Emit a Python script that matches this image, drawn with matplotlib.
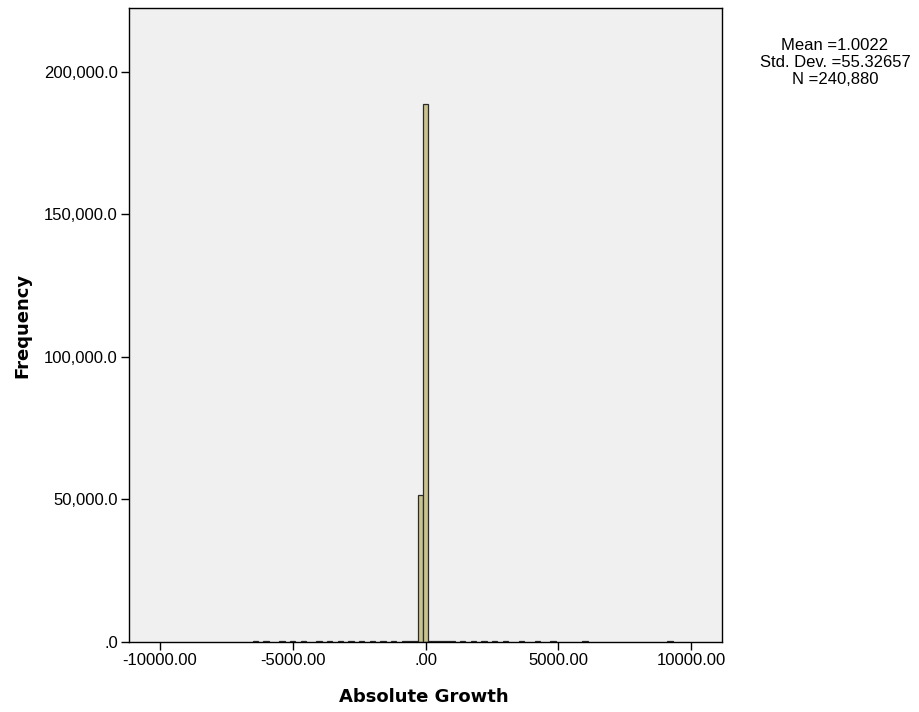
import matplotlib
matplotlib.use("Agg")
import matplotlib.pyplot as plt
from matplotlib.ticker import FuncFormatter

# === Histogram data (bin centres, width 200) ===
bin_width = 200
bin_centers = [-6400, -6000, -5400, -5000, -4600, -4000, -3600, -3200, -2800,
               -2400, -2000, -1600, -1200, -800, -600, -400, -200, 0,
               200, 400, 600, 800, 1000, 1400, 1800, 2200, 2600, 3000,
               3600, 4200, 4800, 6000, 9200]
counts = [5, 5, 8, 6, 10, 12, 10, 12, 15,
          15, 20, 20, 25, 30, 35, 120, 51450, 188760,
          160, 60, 35, 30, 25, 20, 18, 15, 12, 10,
          8, 6, 5, 3, 2]

x_ticks = [-10000, -5000, 0, 5000, 10000]
y_ticks = [0, 50000, 100000, 150000, 200000]
stats_lines = ["Mean =1.0022", "Std. Dev. =55.32657", "N =240,880"]

W, H = 919, 712
fig = plt.figure(figsize=(W / 100, H / 100), dpi=100)
ax = fig.add_axes([129 / W, 1 - 641.5 / H, (722 - 129) / W, (641.5 - 8) / H])
ax.set_facecolor("#F0F0F0")

ax.bar(bin_centers, counts, width=bin_width, align="center",
       color="#C9C38D", edgecolor="#2b2b2b", linewidth=0.9)

ax.set_xlim(-11150, 11150)
ax.set_ylim(0, 222500)
ax.set_xticks(x_ticks)
ax.set_yticks(y_ticks)


def fmt_x(v, pos):
    s = "%.2f" % v
    return ".00" if v == 0 else s


def fmt_y(v, pos):
    if v == 0:
        return ".0"
    return "{:,.1f}".format(v)


ax.xaxis.set_major_formatter(FuncFormatter(fmt_x))
ax.yaxis.set_major_formatter(FuncFormatter(fmt_y))
ax.tick_params(direction="out", length=6, width=1, color="black",
               labelsize=12, pad=2)
for lab in ax.get_xticklabels() + ax.get_yticklabels():
    lab.set_family("Liberation Sans")
for sp in ax.spines.values():
    sp.set_color("black")
    sp.set_linewidth(1)

# axis titles
fig.text(424 / W, 1 - 697 / H, "Absolute Growth", ha="center", va="center",
         fontsize=13, fontweight="bold", family="DejaVu Sans")
fig.text(22.5 / W, 1 - 325 / H, "Frequency", ha="center", va="center",
         rotation=90, fontsize=13, fontweight="bold", family="DejaVu Sans")

# stats box
for i, line in enumerate(stats_lines):
    fig.text(835 / W, 1 - (46 + 16.7 * i) / H, line, ha="center", va="center",
             fontsize=12, family="Liberation Sans")

fig.savefig("out.png", dpi=100)
